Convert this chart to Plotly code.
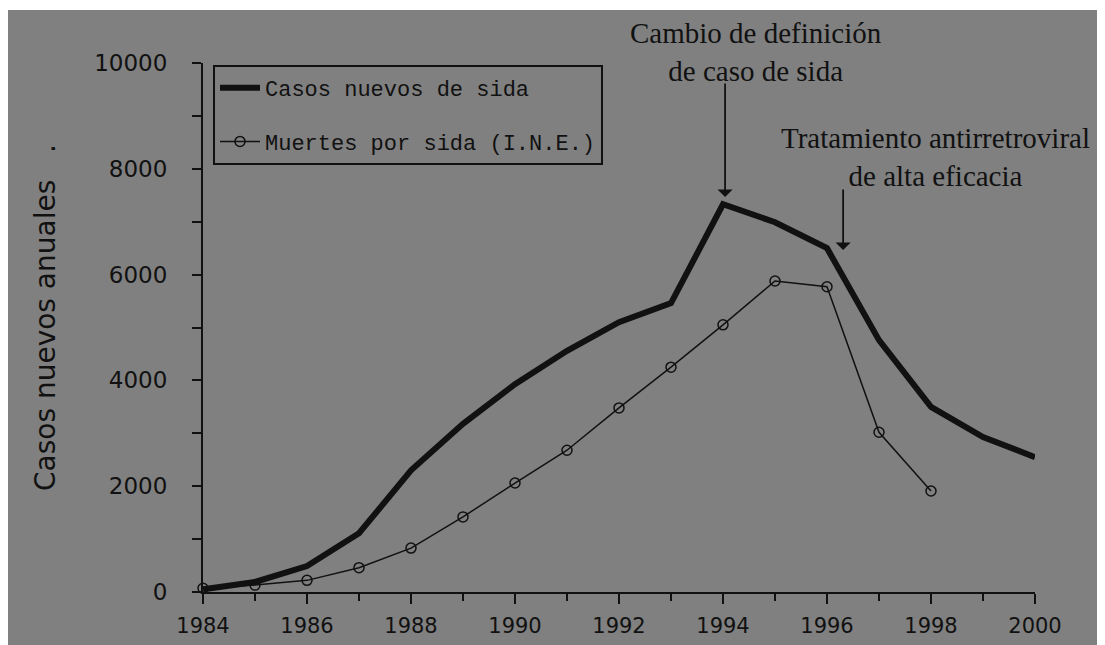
import plotly.graph_objects as go

years = list(range(1984, 2001))
casos_nuevos = [50, 190, 490, 1110, 2300, 3180, 3930, 4560, 5100, 5460,
                7330, 6990, 6500, 4760, 3500, 2930, 2550]
years_muertes = list(range(1984, 1999))
muertes = [70, 130, 220, 460, 830, 1420, 2060, 2680, 3480, 4250,
           5050, 5880, 5770, 3020, 1910]

y_title = "Casos nuevos anuales   ."
label_casos = "Casos nuevos de sida"
label_muertes = "Muertes por sida (I.N.E.)"
note_cambio = "Cambio de definición<br>de caso de sida"
note_tratamiento = "Tratamiento antirretroviral<br>de alta eficacia"

# page is offset by the browser's 8px body margin
OFF = 8
W, H = 1105 - OFF, 645 - OFF
L, R, T, B = 203 - OFF, 70, 63 - OFF, 53
PW, PH = W - L - R, H - T - B
BG = "#808080"
INK = "#111111"

fig = go.Figure()
fig.add_trace(go.Scatter(
    x=years, y=casos_nuevos, mode="lines", name=label_casos,
    line=dict(color=INK, width=6), cliponaxis=False, legendgroup="a"))
fig.add_trace(go.Scatter(
    x=years_muertes, y=muertes, mode="lines+markers", name=label_muertes,
    line=dict(color=INK, width=1.5),
    marker=dict(symbol="circle-open", size=10, color=INK, line=dict(width=1.5, color=INK)),
    cliponaxis=False, legendgroup="b"))

sans = "DejaVu Sans"
fig.update_xaxes(
    range=[1984, 2000], dtick=2, tick0=1984, showgrid=False, zeroline=False,
    showline=True, linecolor=INK, linewidth=2, automargin=False,
    ticks="outside", ticklen=10, tickwidth=2, tickcolor=INK,
    minor=dict(dtick=1, ticks="outside", ticklen=7, tickwidth=2, tickcolor=INK),
    tickfont=dict(family=sans, size=21, color=INK), ticklabelstandoff=4)
fig.update_yaxes(
    range=[0, 10000], dtick=2000, tickformat="d", showgrid=False, zeroline=False,
    showline=True, linecolor=INK, linewidth=2, automargin=False,
    ticks="outside", ticklen=9, tickwidth=2, tickcolor=INK,
    minor=dict(dtick=1000, ticks="outside", ticklen=9, tickwidth=2, tickcolor=INK),
    tickfont=dict(family=sans, size=23, color=INK), ticklabelstandoff=20)

def px_x(p):
    return (p - OFF - L) / PW

def px_y(p):
    return (H + OFF - B - p) / PH

shapes = [
    dict(type="rect", xref="paper", yref="paper", x0=px_x(0), x1=px_x(1105),
         y0=px_y(10), y1=px_y(0), fillcolor="white", line=dict(width=0), layer="above"),
]

serif = "Liberation Serif"
annotations = [
    dict(xref="paper", yref="paper", x=px_x(45), y=px_y(318), text=y_title,
         textangle=-90, showarrow=False, xanchor="center", yanchor="middle",
         font=dict(family=sans, size=28, color=INK)),
    dict(xref="paper", yref="paper", x=px_x(756), y=px_y(52), text=note_cambio, showarrow=False,
         xanchor="center", yanchor="middle", font=dict(family=serif, size=29, color=INK)),
    dict(xref="paper", yref="paper", x=px_x(935), y=px_y(157), text=note_tratamiento, showarrow=False,
         xanchor="center", yanchor="middle", font=dict(family=serif, size=29, color=INK)),
    dict(xref="x", yref="y", x=1994.04, y=7467, axref="x", ayref="y", ax=1994.04, ay=9640,
         text="", showarrow=True, arrowhead=1, arrowsize=1.4, arrowwidth=1.8, arrowcolor=INK),
    dict(xref="x", yref="y", x=1996.31, y=6465, axref="x", ayref="y", ax=1996.31, ay=7637,
         text="", showarrow=True, arrowhead=1, arrowsize=1.4, arrowwidth=1.8, arrowcolor=INK),
]

fig.update_layout(
    width=W, height=H, margin=dict(l=L, r=R, t=T, b=B),
    paper_bgcolor=BG, plot_bgcolor=BG,
    shapes=shapes, annotations=annotations,
    legend=dict(x=px_x(213), y=px_y(65), xanchor="left", yanchor="top",
                bgcolor=BG, bordercolor=INK, borderwidth=2,
                font=dict(family="Liberation Mono", size=22, color=INK),
                traceorder="grouped", tracegroupgap=22, itemwidth=40),
    showlegend=True,
)

fig.write_html("out.html")
